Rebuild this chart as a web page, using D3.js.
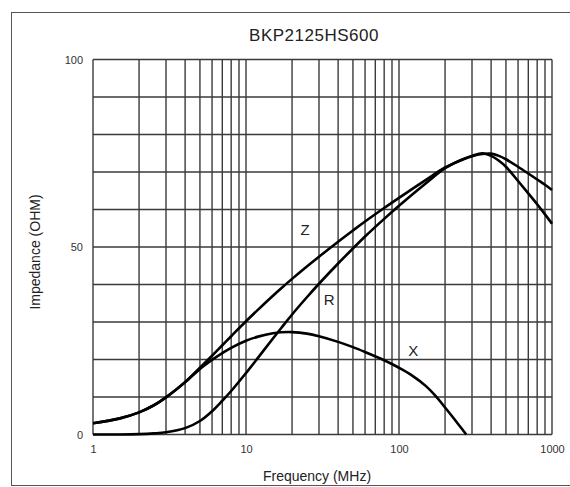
<!DOCTYPE html>
<html lang="en">
<head>
    <meta charset="UTF-8">
    <title>BKP2125HS600</title>
    <script src="https://d3js.org/d3.v7.min.js"></script>
    <style>
        body { margin: 0; background: #fff; }
        text { font-family: "Liberation Sans", Arial, sans-serif; }
    </style>
</head>
<body>
    <div id="chart"></div>

    <script>
        // Frequencies (MHz) and impedance readings (ohm)
        const freqs = [1, 1.5, 2, 2.5, 3, 4, 5, 6, 7, 8, 10, 12, 15, 17, 20, 25, 30, 40, 50, 60, 80, 100, 150, 200, 250, 300, 350, 400, 450, 500, 600, 700, 800, 900, 1000];
        const zVals = [3.0, 4.3, 5.9, 7.8, 9.9, 14, 17.8, 21, 23.8, 26.2, 30.2, 33.3, 37, 39, 41.5, 44.8, 47.4, 51.4, 54.4, 56.8, 60.4, 63.1, 67.9, 71.2, 73, 74.2, 74.8, 74.9, 74.3, 73.4, 71.4, 69.6, 68, 66.6, 65.2];
        const rVals = [0, 0, 0.1, 0.3, 0.6, 1.7, 3.6, 6.2, 9, 11.6, 16.4, 20.5, 25.6, 28.4, 32, 36.6, 40.2, 45.6, 49.6, 52.8, 57.5, 61, 67, 71, 73.1, 74.3, 75, 74.3, 73, 71.4, 67.6, 64.3, 61.4, 58.7, 56.2];
        const xFreqs = [1, 1.5, 2, 2.5, 3, 4, 5, 6, 7, 8, 10, 12, 15, 17, 20, 25, 30, 40, 50, 60, 80, 100, 120, 150, 175, 200, 225, 250, 275];
        const xVals = [3.0, 4.3, 5.9, 7.8, 9.9, 13.9, 17.5, 19.9, 21.7, 23.1, 25, 26.1, 27, 27.25, 27.3, 26.9, 26.2, 24.7, 23.3, 22, 19.8, 17.8, 15.9, 12.9, 10.1, 7.2, 4.6, 2.2, 0];

        const xTicks = [1, 10, 100, 1000];
        const yTicks = [0, 50, 100];
        const curveLabels = [
            { name: "Z", f: 24.3, v: 54.5 },
            { name: "R", f: 35, v: 35.9 },
            { name: "X", f: 124, v: 22.3 }
        ];

        // Canvas
        const svgWidth = 570;
        const svgHeight = 487;
        const margin = { top: 59.5, left: 93 };
        const width = 459;
        const height = 375;

        const root = d3.select("#chart")
            .append("svg")
            .attr("width", svgWidth)
            .attr("height", svgHeight);

        // Outer frame
        root.append("rect")
            .attr("x", 11.5)
            .attr("y", 12.5)
            .attr("width", 570)
            .attr("height", 473)
            .attr("fill", "none")
            .attr("stroke", "#555")
            .attr("stroke-width", 1);

        root.append("text")
            .attr("x", 314)
            .attr("y", 41)
            .attr("text-anchor", "middle")
            .style("font-size", "17px")
            .style("letter-spacing", "0.5px")
            .attr("fill", "#222")
            .text("BKP2125HS600");

        const svg = root.append("g")
            .attr("transform", `translate(${margin.left},${margin.top})`);

        // Scales
        const xScale = d3.scaleLog()
            .domain([1, 1000])
            .range([0, width]);

        const yScale = d3.scaleLinear()
            .domain([0, 100])
            .range([height, 0]);

        // Grid
        const gridColor = "#3a3a3a";
        const vLines = [];
        [1, 10, 100].forEach(d => { for (let i = 1; i <= 9; i++) vLines.push(d * i); });
        vLines.push(1000);

        svg.selectAll(".vgrid")
            .data(vLines)
            .enter().append("line")
            .attr("class", "vgrid")
            .attr("x1", d => xScale(d))
            .attr("x2", d => xScale(d))
            .attr("y1", 0)
            .attr("y2", height)
            .attr("stroke", gridColor)
            .attr("stroke-width", 1.4);

        svg.selectAll(".hgrid")
            .data(d3.range(0, 101, 10))
            .enter().append("line")
            .attr("class", "hgrid")
            .attr("x1", 0)
            .attr("x2", width)
            .attr("y1", d => yScale(d))
            .attr("y2", d => yScale(d))
            .attr("stroke", gridColor)
            .attr("stroke-width", 1.4);

        // Axes (labels only)
        const yAxis = svg.append("g")
            .call(d3.axisLeft(yScale).tickValues(yTicks).tickSize(0).tickPadding(10));
        yAxis.select(".domain").remove();
        yAxis.selectAll("text").style("font-size", "11px").attr("fill", "#333");

        const xAxis = svg.append("g")
            .attr("transform", `translate(0,${height})`)
            .call(d3.axisBottom(xScale).tickValues(xTicks).tickFormat(d3.format("d")).tickSize(0).tickPadding(11));
        xAxis.select(".domain").remove();
        xAxis.selectAll("text").style("font-size", "11px").attr("fill", "#333");

        // Curves
        const line = d3.line()
            .x(d => xScale(d[0]))
            .y(d => yScale(d[1]))
            .curve(d3.curveCatmullRom.alpha(0.5));

        const series = [
            freqs.map((f, i) => [f, zVals[i]]),
            freqs.map((f, i) => [f, rVals[i]]),
            xFreqs.map((f, i) => [f, xVals[i]])
        ];

        svg.selectAll(".curve")
            .data(series)
            .enter().append("path")
            .attr("class", "curve")
            .attr("d", line)
            .attr("fill", "none")
            .attr("stroke", "#000")
            .attr("stroke-width", 2.6)
            .attr("stroke-linejoin", "round");

        svg.selectAll(".clabel")
            .data(curveLabels)
            .enter().append("text")
            .attr("class", "clabel")
            .attr("x", d => xScale(d.f))
            .attr("y", d => yScale(d.v))
            .attr("text-anchor", "middle")
            .attr("dy", "0.35em")
            .style("font-size", "15px")
            .attr("fill", "#222")
            .text(d => d.name);

        // Axis titles
        root.append("text")
            .attr("x", 317)
            .attr("y", 481)
            .attr("text-anchor", "middle")
            .style("font-size", "14px")
            .attr("fill", "#222")
            .text("Frequency (MHz)");

        root.append("text")
            .attr("transform", "translate(40,252) rotate(-90)")
            .attr("text-anchor", "middle")
            .style("font-size", "14px")
            .attr("fill", "#222")
            .text("Impedance (OHM)");
    </script>
</body>
</html>
